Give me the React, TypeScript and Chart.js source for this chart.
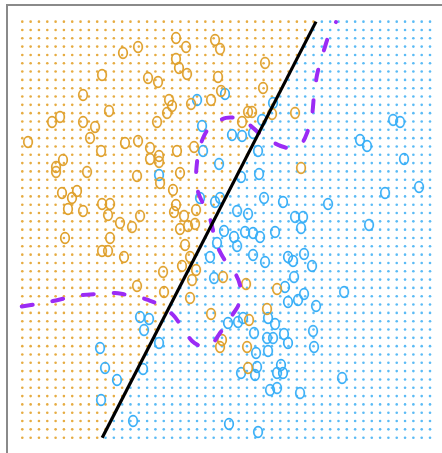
import React, { useEffect, useRef } from "react";
import { Chart, registerables } from "chart.js";

Chart.register(...registerables);

// Grid of the classification map (grid units)
const gridCols = 50;
const gridRows = 51;

// Linear classifier boundary (grid units)
const linearX = [9.6, 35.3];
const linearY = [0, 50];

// Bayes decision boundary (grid units)
const bayesX = [-0.07, 1.77, 3.69, 5.37, 7.29, 9.1, 11.14, 12.34, 13.91, 15.11, 16.55, 18.11, 19.2, 20.4, 21.72, 22.8, 23.76, 24.6, 25.32, 25.93, 26.28, 26.16, 25.69, 24.96, 24.24, 23.64, 23.16, 22.68, 22.08, 21.12, 20.88, 21.0, 21.24, 21.72, 22.44, 23.4, 24.48, 25.56, 27.0, 28.57, 30.01, 31.93, 33.5, 34.22, 34.82, 35.06, 35.42, 35.78, 36.26, 36.86, 37.7];
const bayesY = [15.77, 16.07, 16.43, 16.79, 17.15, 17.27, 17.39, 17.21, 16.91, 16.55, 15.95, 14.75, 13.3, 11.62, 10.9, 11.26, 12.58, 13.79, 14.87, 15.83, 17.15, 18.35, 19.55, 20.52, 21.48, 22.56, 23.76, 25.93, 27.37, 29.53, 31.22, 33.14, 34.58, 36.02, 37.23, 37.95, 38.43, 38.43, 37.82, 36.5, 35.54, 34.82, 35.3, 36.62, 38.79, 41.19, 43.59, 45.03, 46.6, 48.4, 49.96];

// Orange class observations
const orangeX = [12.1, 13.91, 18.47, 19.68, 23.16, 23.76, 29.17, 9.58, 18.47, 18.83, 19.8, 23.52, 15.11, 16.31, 28.93, 23.88, 7.3, 17.63, 17.99, 17.39, 20.28, 22.68, 10.42, 27.13, 27.61, 30.01, 32.78, 4.53, 3.57, 7.3, 16.19, 26.41, 8.74, 8.14, 0.69, 12.34, 13.91, 15.35, 9.46, 18.59, 20.64, 15.35, 16.43, 16.43, 4.89, 4.05, 4.05, 7.78, 33.5, 13.79, 18.95, 16.55, 18.11, 6.57, 4.77, 5.97, 5.49, 7.3, 9.58, 10.54, 10.3, 11.74, 14.15, 18.47, 18.23, 19.44, 20.88, 13.19, 18.95, 19.92, 20.76, 5.13, 10.54, 9.58, 10.3, 12.22, 19.56, 20.16, 19.19, 16.91, 20.88, 20.4, 24.12, 13.79, 17.03, 20.16, 22.68, 26.89, 30.61, 29.41, 27.25, 24.0, 23.76, 27.01, 27.13];
const orangeY = [46.24, 46.96, 48.04, 46.96, 47.8, 46.72, 45.04, 43.59, 45.52, 44.44, 43.71, 43.35, 43.23, 42.75, 42.03, 41.67, 41.19, 40.59, 39.87, 39.03, 40.11, 40.59, 39.27, 39.15, 39.15, 38.91, 39.03, 38.55, 37.94, 37.94, 37.94, 37.94, 37.34, 36.02, 35.54, 35.42, 35.66, 34.82, 34.46, 34.46, 34.94, 33.5, 33.86, 33.14, 33.38, 32.54, 31.94, 31.94, 32.42, 31.45, 31.81, 30.61, 29.77, 29.65, 29.41, 28.81, 27.49, 27.25, 28.09, 28.09, 26.77, 25.81, 26.65, 27.97, 27.13, 26.65, 27.37, 25.32, 25.08, 25.44, 25.69, 24.0, 24.0, 22.44, 22.44, 21.72, 23.16, 21.72, 20.64, 19.92, 20.16, 18.95, 19.31, 18.23, 17.51, 16.79, 14.87, 18.47, 17.87, 15.47, 14.15, 11.74, 10.9, 10.9, 8.38];

// Blue class observations
const blueX = [21.0, 24.36, 30.13, 28.81, 21.6, 25.2, 26.41, 27.73, 21.72, 28.33, 23.64, 16.43, 28.45, 26.29, 21.36, 23.16, 23.76, 29.05, 31.33, 25.81, 27.13, 32.78, 33.74, 36.74, 44.56, 45.4, 40.59, 41.43, 45.88, 47.68, 43.59, 41.67, 24.24, 25.44, 26.77, 27.73, 28.57, 30.37, 33.5, 23.4, 25.81, 22.56, 27.73, 29.17, 31.93, 32.54, 33.86, 34.82, 23.04, 32.66, 31.57, 31.93, 33.14, 33.86, 35.3, 38.67, 14.15, 15.23, 14.63, 16.43, 24.72, 25.93, 26.53, 29.53, 30.37, 27.85, 29.41, 30.13, 31.45, 31.93, 34.94, 35.06, 29.53, 28.09, 28.21, 26.29, 27.97, 31.09, 30.61, 31.33, 29.77, 30.61, 33.38, 38.43, 9.34, 9.94, 11.38, 9.46, 14.51, 13.31, 24.84, 28.33];
const blueY = [40.59, 41.31, 40.23, 38.19, 37.46, 36.38, 36.26, 36.62, 34.46, 34.46, 32.9, 31.57, 31.69, 31.33, 28.81, 28.33, 28.81, 28.81, 28.33, 27.25, 26.89, 26.53, 26.53, 28.09, 38.19, 37.94, 35.78, 35.06, 33.5, 30.13, 29.41, 25.57, 24.84, 24.12, 24.72, 24.6, 24.12, 24.72, 25.2, 23.4, 23.04, 21.72, 21.96, 21.12, 21.72, 21.24, 22.08, 20.64, 19.19, 19.31, 18.11, 16.31, 16.55, 17.27, 15.83, 17.51, 14.51, 14.27, 12.94, 11.38, 13.79, 13.91, 14.39, 14.39, 13.67, 12.58, 11.98, 11.98, 12.46, 11.38, 12.82, 10.9, 10.42, 10.18, 8.5, 7.78, 7.54, 8.74, 7.78, 7.78, 5.73, 5.97, 5.37, 7.18, 10.78, 8.38, 6.94, 4.53, 8.26, 2.01, 1.65, 0.69];

const ORANGE = "#DFA02C";
const ORANGE_DOT = "#E6AC42";
const BLUE = "#37AEF7";
const BLUE_DOT = "#5BBBF5";

function makeO(color: string) {
  const c = document.createElement("canvas");
  c.width = 14;
  c.height = 16;
  const ctx = c.getContext("2d")!;
  ctx.strokeStyle = color;
  ctx.lineWidth = 1.7;
  ctx.beginPath();
  ctx.ellipse(7, 8, 4.3, 5.3, 0, 0, Math.PI * 2);
  ctx.stroke();
  return c;
}

export default function App() {
  const ref = useRef<HTMLCanvasElement>(null);

  useEffect(() => {
    const slope = (linearX[1] - linearX[0]) / (linearY[1] - linearY[0]);
    const orangeGrid: { x: number; y: number }[] = [];
    const blueGrid: { x: number; y: number }[] = [];
    for (let j = 0; j < gridRows; j++) {
      for (let i = 0; i < gridCols; i++) {
        const bx = linearX[0] + (j - linearY[0]) * slope;
        if (i < bx) orangeGrid.push({ x: i, y: j });
        else blueGrid.push({ x: i, y: j });
      }
    }
    const orangePts = orangeX.map((x, k) => ({ x, y: orangeY[k] }));
    const bluePts = blueX.map((x, k) => ({ x, y: blueY[k] }));
    const linePts = linearX.map((x, k) => ({ x, y: linearY[k] }));
    const bayesPts = bayesX.map((x, k) => ({ x, y: bayesY[k] }));

    const chart = new Chart(ref.current!, {
      type: "scatter",
      data: {
        datasets: [
          {
            data: linePts,
            showLine: true,
            borderColor: "#000000",
            borderWidth: 3.2,
            pointRadius: 0,
            order: 0,
          },
          {
            data: bayesPts,
            showLine: true,
            borderColor: "#9B2BF5",
            borderWidth: 4,
            borderDash: [11, 20],
            borderCapStyle: "round",
            pointRadius: 0,
            tension: 0.3,
            order: 1,
          },
          {
            data: orangePts,
            pointStyle: makeO(ORANGE),
            pointRadius: 6,
            order: 2,
          },
          {
            data: bluePts,
            pointStyle: makeO(BLUE),
            pointRadius: 6,
            order: 2,
          },
          {
            data: orangeGrid,
            pointRadius: 1.3,
            pointBorderWidth: 0,
            backgroundColor: ORANGE_DOT,
            borderColor: ORANGE_DOT,
            order: 3,
          },
          {
            data: blueGrid,
            pointRadius: 1.3,
            pointBorderWidth: 0,
            backgroundColor: BLUE_DOT,
            borderColor: BLUE_DOT,
            order: 3,
          },
        ],
      },
      options: {
        responsive: false,
        animation: false,
        layout: { autoPadding: false, padding: { left: 6.5, top: 5, right: 0, bottom: 0 } },
        plugins: { legend: { display: false }, tooltip: { enabled: false } },
        scales: {
          x: {
            type: "linear",
            position: "top",
            min: -1.9,
            max: 50.44,
            ticks: { display: false },
            grid: { display: false, drawTicks: false },
            border: { display: true, color: "#8a8a8a", width: 2 },
          },
          y: {
            type: "linear",
            position: "left",
            min: -1.84,
            max: 52.0,
            ticks: { display: false },
            grid: { display: false, drawTicks: false },
            border: { display: true, color: "#8a8a8a", width: 2 },
          },
        },
      },
    });
    return () => chart.destroy();
  }, []);

  return (
    <div style={{ position: "fixed", left: 0, top: 0, width: 442, height: 453, background: "#fff" }}>
      <canvas ref={ref} width={442} height={453} style={{ display: "block" }} />
    </div>
  );
}
